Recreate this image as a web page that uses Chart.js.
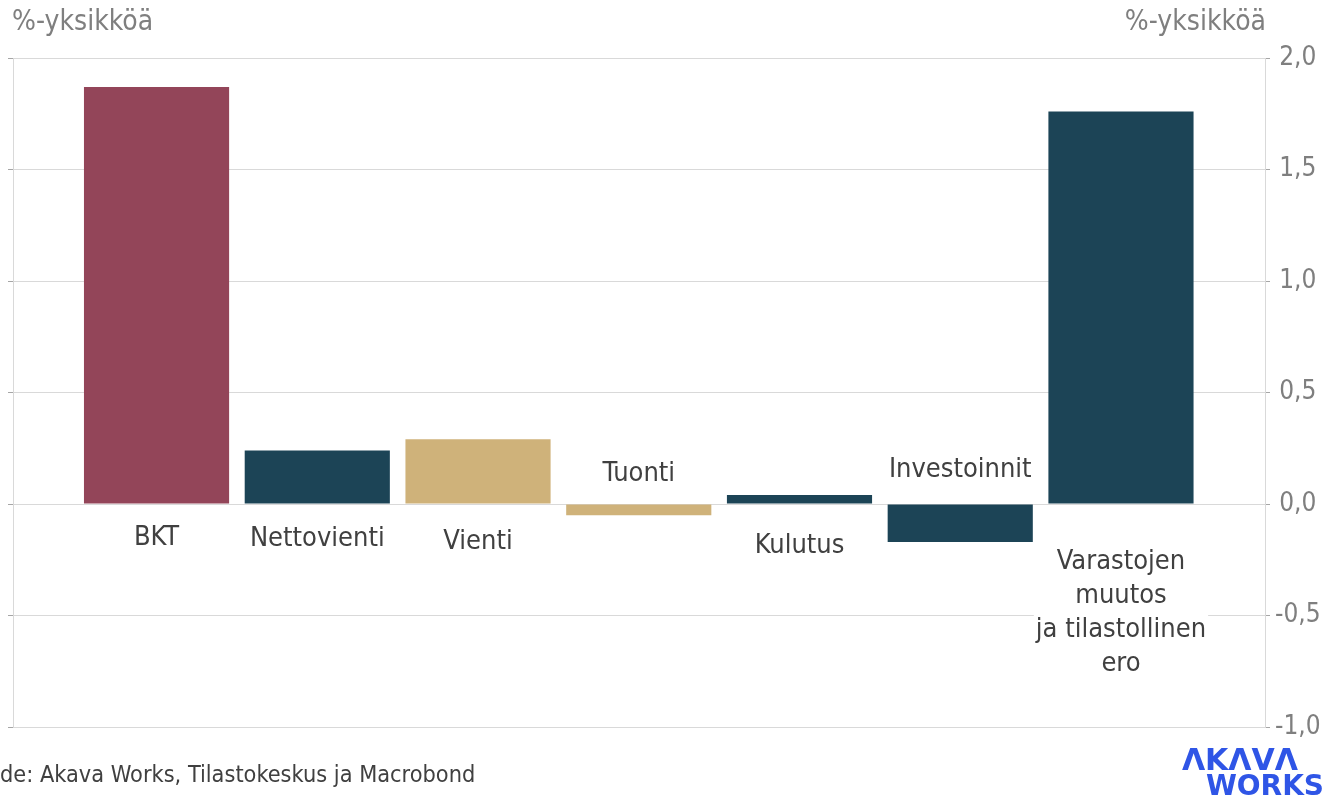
<!DOCTYPE html>
<html>
<head>
<meta charset="utf-8">
<script src="https://cdn.jsdelivr.net/npm/chart.js@4"></script>
<style>
  html, body { margin: 0; padding: 0; background: #fff; }
  #wrap { width: 1326px; height: 800px; position: relative; }
</style>
</head>
<body>
<div id="wrap"><canvas id="myChart"></canvas></div>
<script>
const CATEGORIES = ["BKT", "Nettovienti", "Vienti", "Tuonti", "Kulutus", "Investoinnit",
  "Varastojen\nmuutos\nja tilastollinen\nero"];
const VALUES = [1.87, 0.24, 0.29, -0.05, 0.04, -0.17, 1.76];
const Y_MIN = -1.0;
const Y_MAX = 2.0;
const UNIT = "%-yksikköä";
const SOURCE = "Lähde: Akava Works, Tilastokeskus ja Macrobond";

const RED = "#934559";
const TEAL = "#1c4456";
const SAND = "#cfb27a";
const BAR_COLORS = [RED, TEAL, SAND, SAND, TEAL, TEAL, TEAL];
// vertical label offset from the zero line, px
const LABEL_DY = [34, 35, 38, -30, 42, -34, 58];

const FONT = '"DejaVu Sans Condensed", "DejaVu Sans", sans-serif';
const GRID = "#d9d9d9";

const data = {
  datasets: [{
    data: CATEGORIES.map((c, i) => ({ x: i, y: VALUES[i] })),
    backgroundColor: BAR_COLORS,
    borderWidth: 0,
    categoryPercentage: 1,
    barPercentage: 0.903,
  }],
};

// bar labels, unit titles, source and logo
const extras = {
  id: "extras",
  afterDatasetsDraw(chart) {
    const ctx = chart.ctx;
    const xs = chart.scales.x, ys = chart.scales.y;
    const y0 = ys.getPixelForValue(0);
    ctx.save();
    ctx.font = "27px " + FONT;
    ctx.textAlign = "center";
    ctx.textBaseline = "middle";
    CATEGORIES.forEach((c, i) => {
      const lines = c.split("\n");
      const x = xs.getPixelForValue(i);
      const lh = 34;
      const top = y0 + LABEL_DY[i];
      const w = Math.max(...lines.map(l => ctx.measureText(l).width));
      ctx.fillStyle = "#fff";
      ctx.fillRect(x - w / 2 - 2, top - lh / 2, w + 4, lh * lines.length);
      ctx.fillStyle = "#404040";
      lines.forEach((l, k) => ctx.fillText(l, x, top + k * lh));
    });
    ctx.restore();
  },
  afterDraw(chart) {
    const ctx = chart.ctx;
    ctx.save();
    ctx.font = "28px " + FONT;
    ctx.fillStyle = "#7f7f7f";
    ctx.textBaseline = "alphabetic";
    ctx.textAlign = "left";
    ctx.fillText(UNIT, 12, 30);
    ctx.textAlign = "right";
    ctx.fillText(UNIT, 1266, 30);

    // source, cut off at the left edge like in the original
    ctx.font = "23.3px " + FONT;
    ctx.fillStyle = "#404040";
    ctx.textAlign = "left";
    const cut = ctx.measureText("Läh").width;
    ctx.fillText(SOURCE, -cut, 782);

    // logo
    ctx.fillStyle = "#2f55e6";
    ctx.textAlign = "right";
    ctx.font = 'bold 30px "DejaVu Sans", sans-serif';
    ctx.fillText("ΛKΛVΛ", 1298, 770);
    ctx.font = 'bold 28px "DejaVu Sans", sans-serif';
    ctx.fillText("WORKS", 1324, 795);
    ctx.restore();
  },
};

const config = {
  type: "bar",
  data: data,
  options: {
    responsive: true,
    maintainAspectRatio: false,
    animation: false,
    layout: { padding: { top: 58, bottom: 73, left: 0, right: 0 } },
    plugins: {
      legend: { display: false },
      tooltip: { enabled: false },
    },
    scales: {
      x: {
        type: "linear",
        offset: false,
        min: -0.893,
        max: 6.896,
        display: false,
        // one tick per category so the bar width follows the category spacing
        afterBuildTicks: (s) => { s.ticks = CATEGORIES.map((c, i) => ({ value: i })); },
      },
      y: {
        position: "right",
        min: Y_MIN,
        max: Y_MAX,
        afterFit: (s) => { s.width = 61; },
        border: { display: true, color: GRID },
        grid: { color: GRID, tickColor: "#a6a6a6", tickLength: 5 },
        ticks: {
          stepSize: 0.5,
          crossAlign: "center",
          padding: 5,
          color: "#7f7f7f",
          font: { family: FONT, size: 26 },
          callback: (v) => v.toFixed(1).replace(".", ","),
        },
      },
      yLeft: {
        position: "left",
        min: Y_MIN,
        max: Y_MAX,
        afterFit: (s) => { s.width = 13; },
        border: { display: true, color: GRID },
        grid: { drawOnChartArea: false, tickColor: "#a6a6a6", tickLength: 5 },
        ticks: { stepSize: 0.5, display: false },
      },
    },
  },
  plugins: [extras],
};

const myChart = new Chart(document.getElementById("myChart"), config);
</script>
</body>
</html>
